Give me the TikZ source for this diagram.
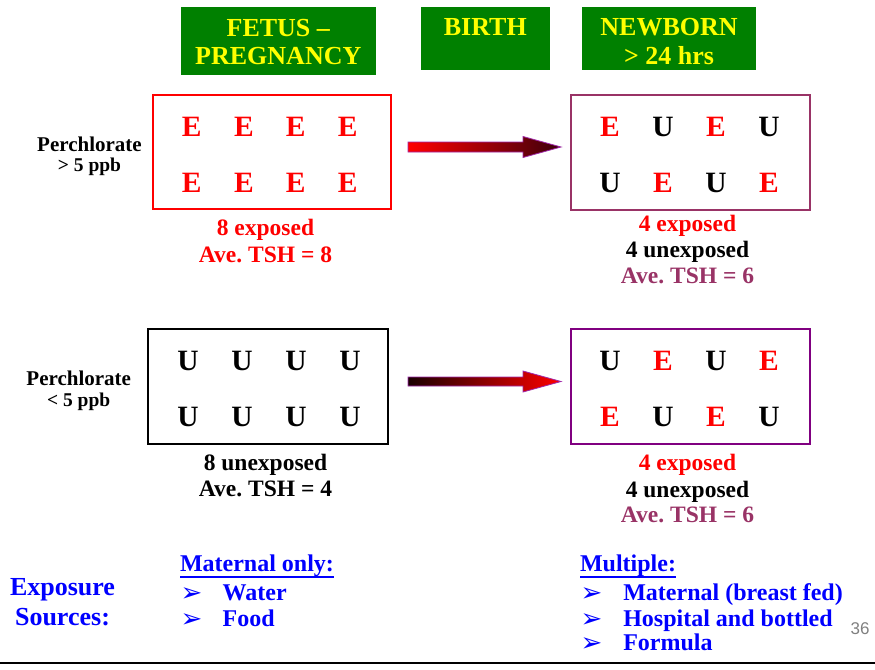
\documentclass[tikz,border=0pt]{standalone}
\usepackage{fontspec}
\setmainfont{Liberation Serif}
\newfontfamily\sansf{Liberation Sans}
\newfontfamily\symf{DejaVu Sans}
\frenchspacing
\definecolor{hdrgreen}{RGB}{0,128,0}
\definecolor{hdryellow}{RGB}{255,255,0}
\definecolor{exred}{RGB}{255,0,0}
\definecolor{maroonish}{RGB}{153,51,102}
\definecolor{boxpurple}{RGB}{128,0,128}
\definecolor{srcblue}{RGB}{0,0,255}
\definecolor{pagegray}{RGB}{128,128,128}
\definecolor{arrowborder}{RGB}{160,40,170}
\definecolor{darktip}{RGB}{60,0,12}
\definecolor{darktail}{RGB}{25,0,0}
\begin{document}
\begin{tikzpicture}[x=1pt,y=-1pt,
  plain/.style={inner sep=0pt, outer sep=0pt},
  hdrbox/.style={plain, fill=hdrgreen, draw=none},
  hdrtxt/.style={plain, anchor=base, text=hdryellow, font=\bfseries\fontsize{26}{28}\selectfont},
  ltr/.style={plain, anchor=base, font=\bfseries\fontsize{29.5}{32}\selectfont},
  lbl/.style={plain, anchor=base, font=\bfseries\fontsize{23.5}{26}\selectfont},
  perc/.style={plain, anchor=base, font=\bfseries\fontsize{21}{22}\selectfont},
  ppb/.style={plain, anchor=base, font=\bfseries\fontsize{19.5}{22}\selectfont},
  src/.style={plain, text=srcblue, font=\bfseries\fontsize{24}{26}\selectfont},
  bul/.style={plain, anchor=base west, text=srcblue, font=\symf\fontsize{26}{26}\selectfont},
  grpbox/.style={plain, line width=2pt, fill=none},
  blockarrow/.style={draw=arrowborder, line width=0.8pt}
]
\useasboundingbox (0,0) rectangle (875,669);

% header boxes
\node[hdrbox, minimum width=194.7pt, minimum height=68.3pt] (hfetus) at (278.35,40.85) {};
\node[hdrbox, minimum width=129.3pt, minimum height=62.7pt] (hbirth) at (485.35,38.35) {};
\node[hdrbox, minimum width=173.7pt, minimum height=63.3pt] (hnew) at (668.85,38.35) {};
\node[hdrtxt] (tfetus1) at (278.3,36.7) {FETUS –};
\node[hdrtxt] (tfetus2) at (278.3,65) {PREGNANCY};
\node[hdrtxt] (tbirth) at (485.3,36) {BIRTH};
\node[hdrtxt] (tnew1) at (669,35.7) {NEWBORN};
\node[hdrtxt] (tnew2) at (669,64) {> 24 hrs};

% group boxes
\node[grpbox, draw=exred, minimum width=237.5pt, minimum height=114pt] (bxA) at (272,152) {};
\node[grpbox, draw=maroonish, minimum width=239pt, minimum height=115pt] (bxB) at (690.5,152.5) {};
\node[grpbox, draw=black, minimum width=240pt, minimum height=114.5pt] (bxC) at (268,386.5) {};
\node[grpbox, draw=boxpurple, minimum width=239pt, minimum height=115pt] (bxD) at (690.5,386.5) {};

% letters box A
\node[ltr, text=exred] (a1) at (191.7,136) {E};
\node[ltr, text=exred] (a2) at (244,136) {E};
\node[ltr, text=exred] (a3) at (295.7,136) {E};
\node[ltr, text=exred] (a4) at (347.7,136) {E};
\node[ltr, text=exred] (a5) at (191.7,192) {E};
\node[ltr, text=exred] (a6) at (244,192) {E};
\node[ltr, text=exred] (a7) at (295.7,192) {E};
\node[ltr, text=exred] (a8) at (347.7,192) {E};
% letters box B
\node[ltr, text=exred] (b1) at (610,136) {E};
\node[ltr, text=black] (b2) at (663,136) {U};
\node[ltr, text=exred] (b3) at (716,136) {E};
\node[ltr, text=black] (b4) at (769,136) {U};
\node[ltr, text=black] (b5) at (610,192) {U};
\node[ltr, text=exred] (b6) at (663,192) {E};
\node[ltr, text=black] (b7) at (716,192) {U};
\node[ltr, text=exred] (b8) at (769,192) {E};
% letters box C
\node[ltr, text=black] (c1) at (188,370) {U};
\node[ltr, text=black] (c2) at (242,370) {U};
\node[ltr, text=black] (c3) at (296,370) {U};
\node[ltr, text=black] (c4) at (350,370) {U};
\node[ltr, text=black] (c5) at (188,426) {U};
\node[ltr, text=black] (c6) at (242,426) {U};
\node[ltr, text=black] (c7) at (296,426) {U};
\node[ltr, text=black] (c8) at (350,426) {U};
% letters box D
\node[ltr, text=black] (d1) at (610,370) {U};
\node[ltr, text=exred] (d2) at (663,370) {E};
\node[ltr, text=black] (d3) at (716,370) {U};
\node[ltr, text=exred] (d4) at (769,370) {E};
\node[ltr, text=exred] (d5) at (610,426) {E};
\node[ltr, text=black] (d6) at (663,426) {U};
\node[ltr, text=exred] (d7) at (716,426) {E};
\node[ltr, text=black] (d8) at (769,426) {U};

% row labels
\node[perc] (p1a) at (89.5,151.5) {Perchlorate};
\node[ppb] (p1b) at (89.5,171) {> 5 ppb};
\node[perc] (p2a) at (78.7,385.5) {Perchlorate};
\node[ppb] (p2b) at (78.7,406.5) {< 5 ppb};

% box captions
\node[lbl, text=exred] (la1) at (265.5,235.5) {8 exposed};
\node[lbl, text=exred] (la2) at (265.5,262) {Ave. TSH = 8};
\node[lbl, text=exred] (lb1) at (687.5,231) {4 exposed};
\node[lbl, text=black] (lb2) at (687.5,257) {4 unexposed};
\node[lbl, text=maroonish] (lb3) at (687.5,283.5) {Ave. TSH = 6};
\node[lbl, text=black] (lc1) at (265.5,470.5) {8 unexposed};
\node[lbl, text=black] (lc2) at (265.5,496.5) {Ave. TSH = 4};
\node[lbl, text=exred] (ld1) at (687.5,470.5) {4 exposed};
\node[lbl, text=black] (ld2) at (687.5,497) {4 unexposed};
\node[lbl, text=maroonish] (ld3) at (687.5,522) {Ave. TSH = 6};

% block arrows
\coordinate (arA) at (408,147);
\coordinate (arB) at (408,381.5);
\shade[blockarrow, left color=exred, right color=darktip]
  ([yshift=5pt]arA) -- ++(115,0) -- ++(0,-5.5) -- ++(38,10.5) -- ++(-38,10.5) -- ++(0,-5.5) -- ++(-115,0) -- cycle;
\shade[blockarrow, left color=darktail, right color=exred]
  ([yshift=4.5pt]arB) -- ++(115,0) -- ++(0,-6) -- ++(38,10.5) -- ++(-38,10.5) -- ++(0,-6) -- ++(-115,0) -- cycle;

% exposure sources
\node[src, anchor=base, font=\bfseries\fontsize{26}{28}\selectfont] (ex1) at (62.5,595) {Exposure};
\node[src, anchor=base, font=\bfseries\fontsize{26}{28}\selectfont] (ex2) at (62.5,625) {Sources:};
\node[src, anchor=base west] (mat) at (180,571.7) {Maternal only:};
\draw[srcblue, line width=1.8pt] ([yshift=-5pt]mat.base west) -- ([yshift=-5pt]mat.base east);
\node[bul] (bw) at (180.5,601) {➢};
\node[src, anchor=base west] (water) at (222.7,600) {Water};
\node[bul] (bf) at (180.5,627) {➢};
\node[src, anchor=base west] (food) at (222.7,626) {Food};

\node[src, anchor=base west] (mul) at (580,571.7) {Multiple:};
\draw[srcblue, line width=1.8pt] ([yshift=-5pt]mul.base west) -- ([yshift=-5pt]mul.base east);
\node[bul] (bm1) at (580.5,601) {➢};
\node[src, anchor=base west] (m1) at (623.3,600) {Maternal (breast fed)};
\node[bul] (bm2) at (580.5,627) {➢};
\node[src, anchor=base west] (m2) at (623.3,626) {Hospital and bottled};
\node[bul] (bm3) at (580.5,651) {➢};
\node[src, anchor=base west] (m3) at (623.3,650) {Formula};

% page number and footer rule
\node[plain, anchor=base west, text=pagegray, font=\sansf\fontsize{17}{18}\selectfont] (pg) at (850.7,634) {36};
\coordinate (ruleL) at (0,662.7);
\coordinate (ruleR) at (875,662.7);
\draw[black, line width=2pt] (ruleL) -- (ruleR);
\end{tikzpicture}
\end{document}
